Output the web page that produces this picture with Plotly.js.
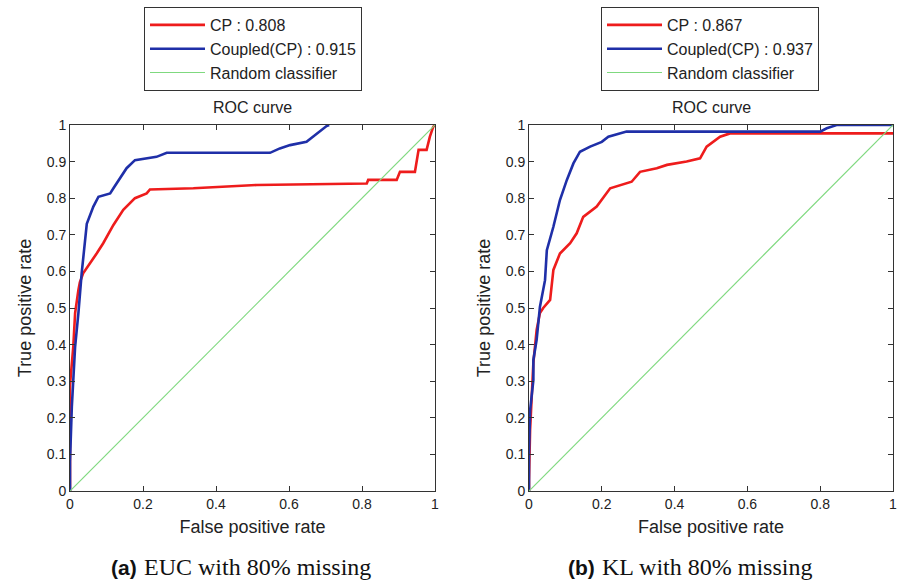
<!DOCTYPE html>
<html>
<head>
<meta charset="utf-8">
<script src="https://cdn.plot.ly/plotly-3.0.1.min.js"></script>
<style>html,body{margin:0;padding:0;background:#fff;}#chart{width:897px;height:584px;}</style>
</head>
<body>
<div id="chart"></div>
<script>
// Panel (a): EUC with 80% missing
const eucCpFpr = [0, 0, 0.009, 0.014, 0.023, 0.027, 0.036, 0.055, 0.073, 0.091, 0.119, 0.146, 0.178, 0.21, 0.219, 0.338, 0.512, 0.813, 0.817, 0.895, 0.904, 0.945, 0.955, 0.977, 0.986, 0.995, 1];
const eucCpTpr = [0, 0.29, 0.394, 0.486, 0.549, 0.57, 0.595, 0.622, 0.649, 0.677, 0.727, 0.768, 0.80, 0.813, 0.824, 0.827, 0.836, 0.84, 0.85, 0.85, 0.872, 0.872, 0.932, 0.932, 0.968, 0.995, 1];
const eucCoupledFpr = [0, 0, 0.005, 0.014, 0.023, 0.032, 0.046, 0.064, 0.078, 0.11, 0.119, 0.137, 0.155, 0.178, 0.237, 0.265, 0.548, 0.575, 0.603, 0.648, 0.676, 0.703, 0.71];
const eucCoupledTpr = [0, 0.08, 0.23, 0.394, 0.486, 0.595, 0.73, 0.777, 0.804, 0.813, 0.827, 0.854, 0.882, 0.904, 0.913, 0.924, 0.924, 0.936, 0.945, 0.954, 0.977, 0.997, 1];
// Panel (b): KL with 80% missing
const klCpFpr = [0, 0, 0.003, 0.012, 0.021, 0.03, 0.039, 0.058, 0.067, 0.085, 0.113, 0.131, 0.149, 0.186, 0.223, 0.25, 0.282, 0.305, 0.351, 0.379, 0.433, 0.47, 0.488, 0.525, 0.552, 1];
const klCpTpr = [0, 0.03, 0.167, 0.35, 0.44, 0.486, 0.5, 0.522, 0.604, 0.649, 0.677, 0.704, 0.749, 0.777, 0.827, 0.836, 0.845, 0.872, 0.882, 0.891, 0.90, 0.909, 0.941, 0.968, 0.977, 0.977];
const klCoupledFpr = [0, 0, 0.003, 0.012, 0.012, 0.021, 0.03, 0.044, 0.049, 0.067, 0.085, 0.104, 0.122, 0.14, 0.168, 0.2, 0.218, 0.268, 0.8, 0.818, 0.845, 1];
const klCoupledTpr = [0, 0.1, 0.22, 0.303, 0.358, 0.413, 0.503, 0.576, 0.658, 0.722, 0.795, 0.85, 0.895, 0.927, 0.941, 0.954, 0.968, 0.982, 0.982, 0.991, 1, 1];
const randomX = [0, 1];
const randomY = [0, 1];

const namesA = ['CP : 0.808', 'Coupled(CP) : 0.915', 'Random classifier'];
const namesB = ['CP : 0.867', 'Coupled(CP) : 0.937', 'Random classifier'];
const xTicks = [0, 0.2, 0.4, 0.6, 0.8, 1];
const yTicks = [0, 0.1, 0.2, 0.3, 0.4, 0.5, 0.6, 0.7, 0.8, 0.9, 1];
const panelTitle = 'ROC curve';
const xTitle = 'False positive rate';
const yTitle = 'True positive rate';
const captionTags = ['(a)', '(b)'];
const captionTexts = ['EUC with 80% missing', 'KL with 80% missing'];

const RED = '#ee1c1c', BLUE = '#1f2fa8', GREEN = '#7fd97f';

const traces = [
  {x: eucCpFpr, y: eucCpTpr, name: namesA[0], mode: 'lines', line: {color: RED, width: 2.6}, xaxis: 'x', yaxis: 'y', legend: 'legend'},
  {x: eucCoupledFpr, y: eucCoupledTpr, name: namesA[1], mode: 'lines', line: {color: BLUE, width: 2.6}, xaxis: 'x', yaxis: 'y', legend: 'legend'},
  {x: randomX, y: randomY, name: namesA[2], mode: 'lines', line: {color: GREEN, width: 1.2}, xaxis: 'x', yaxis: 'y', legend: 'legend'},
  {x: klCpFpr, y: klCpTpr, name: namesB[0], mode: 'lines', line: {color: RED, width: 2.6}, xaxis: 'x2', yaxis: 'y2', legend: 'legend2'},
  {x: klCoupledFpr, y: klCoupledTpr, name: namesB[1], mode: 'lines', line: {color: BLUE, width: 2.6}, xaxis: 'x2', yaxis: 'y2', legend: 'legend2'},
  {x: randomX, y: randomY, name: namesB[2], mode: 'lines', line: {color: GREEN, width: 1.2}, xaxis: 'x2', yaxis: 'y2', legend: 'legend2'}
];

const W = 897, H = 584;
const yDom = [1 - 491 / H, 1 - 125 / H];
const SANS = 'Liberation Sans, Arial, sans-serif';
const axFont = {family: SANS, size: 14, color: '#222'};
function xAxis(dom, anchor) {
  return {domain: dom, anchor: anchor, range: [0, 1], tickvals: xTicks, ticks: 'inside', ticklen: 5, tickcolor: '#333',
    showline: true, linecolor: '#333', linewidth: 1, mirror: 'ticks', showgrid: false, zeroline: false,
    tickfont: axFont, fixedrange: true, ticklabeloverflow: 'allow',
    title: {text: xTitle, font: {family: SANS, size: 18, color: '#222'}, standoff: 9}};
}
function yAxis(anchor) {
  return {domain: yDom, anchor: anchor, range: [0, 1], tickvals: yTicks, ticks: 'inside', ticklen: 5, tickcolor: '#333',
    showline: true, linecolor: '#333', linewidth: 1, mirror: 'ticks', showgrid: false, zeroline: false,
    tickfont: axFont, fixedrange: true, ticklabeloverflow: 'allow',
    title: {text: yTitle, font: {family: SANS, size: 18, color: '#222'}, standoff: 10}};
}
const legFont = {family: SANS, size: 16, color: '#222'};
function legend(xc) {
  return {x: xc / W, xanchor: 'center', y: 1 - 7 / H, yanchor: 'top', bgcolor: '#fff', bordercolor: '#333', borderwidth: 1,
    font: legFont, itemwidth: 55, tracegroupgap: 0, itemclick: false, itemdoubleclick: false};
}

const annotations = [];
const centers = [252.5, 711];
for (let i = 0; i < 2; i++) {
  annotations.push({text: panelTitle, x: centers[i] / W, y: 1 - 108 / H, xref: 'paper', yref: 'paper', xanchor: 'center', yanchor: 'middle', showarrow: false,
    font: {family: SANS, size: 16, color: '#222'}});
  annotations.push({text: '<b>' + captionTags[i] + '</b>', x: (centers[i] - 114) / W, y: 1 - 567 / H, xref: 'paper', yref: 'paper', xanchor: 'right', yanchor: 'middle', showarrow: false,
    font: {family: SANS, size: 21, color: '#111'}});
  annotations.push({text: captionTexts[i], x: (centers[i] - 111) / W, y: 1 - 567 / H, xref: 'paper', yref: 'paper', xanchor: 'left', yanchor: 'middle', showarrow: false,
    font: {family: 'Liberation Serif, Times New Roman, serif', size: 24, color: '#111'}});
}

const layout = {
  width: W, height: H, margin: {l: 0, r: 0, t: 0, b: 0},
  paper_bgcolor: '#fff', plot_bgcolor: '#fff', showlegend: true,
  xaxis: xAxis([70 / W, 435 / W], 'y'),
  yaxis: yAxis('x'),
  xaxis2: xAxis([529 / W, 893 / W], 'y2'),
  yaxis2: yAxis('x2'),
  legend: legend(253),
  legend2: legend(710),
  annotations: annotations
};

Plotly.newPlot('chart', traces, layout, {staticPlot: true, displayModeBar: false});
</script>
</body>
</html>
